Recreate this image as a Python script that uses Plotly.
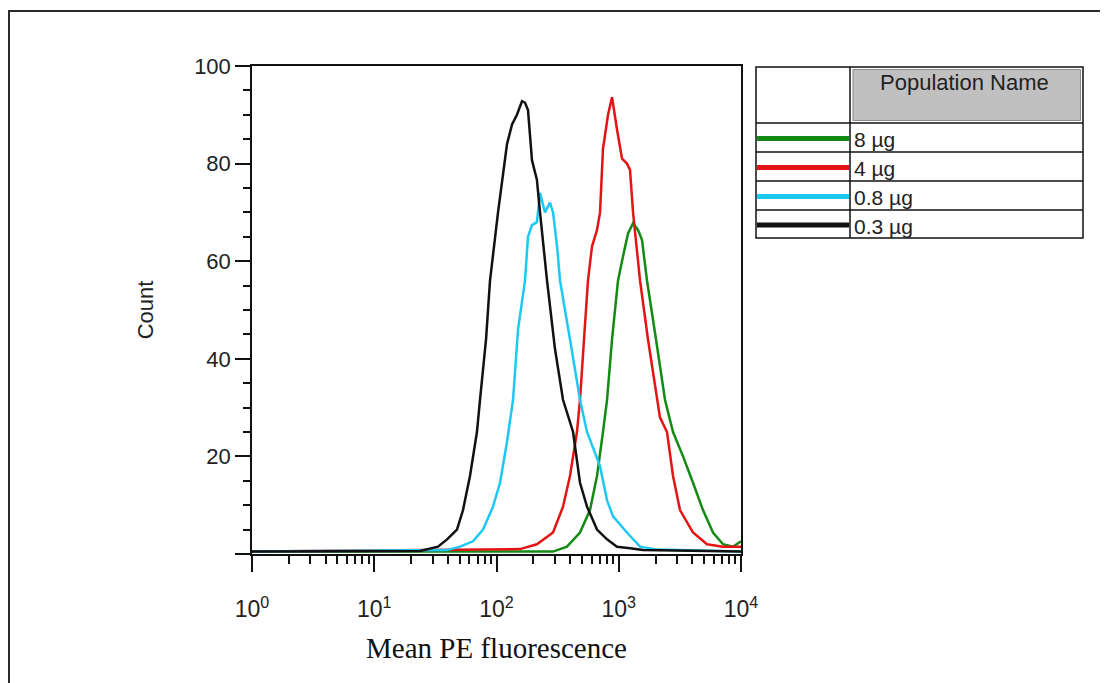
import plotly.graph_objects as go

# ---------------- data ----------------
series_names = ["8 µg", "4 µg", "0.8 µg", "0.3 µg"]
series_colors = ["#138a13", "#e31414", "#1ec8f5", "#111111"]

# 8 µg (green)
fl_8ug = [1, 290, 377, 482, 582, 664, 743, 802, 881, 986, 1084, 1191, 1309, 1437,
          1549, 1641, 1703, 2017, 2389, 2780, 3357, 4049, 4887, 5900, 7125, 8605, 10000]
ct_8ug = [0.5, 0.5, 1.5, 4.4, 9, 16, 25, 31.6, 44, 56, 61, 65.7, 67.8, 66.4,
          64.4, 59.6, 56, 44, 31.6, 25, 20, 14.6, 9, 4.4, 2, 1.5, 2.6]

# 4 µg (red)
fl_4ug = [1, 155.6, 214, 290, 350, 399, 455, 482, 520, 560, 604, 664, 703, 743, 817,
          881, 968, 1064, 1167, 1236, 1309, 1493, 1734, 2056, 2173, 2482, 2780, 3170,
          4049, 5270, 7125, 10000]
ct_4ug = [0.5, 1.0, 2, 4.4, 9.7, 16, 25, 31.6, 44, 56, 63, 66.4, 70, 83, 90,
          93.6, 87, 81, 80, 78.7, 70, 56, 44, 31.6, 28, 25, 16, 9,
          4.4, 2, 1.5, 1.5]

# 0.8 µg (cyan)
fl_08ug = [1, 39.4, 50.3, 64.2, 77.6, 93.6, 106.9, 121.9, 136.5, 150, 171, 181, 195,
           214, 227, 236, 249, 274, 290, 313, 331, 399, 482, 550, 703, 802, 898,
           1167, 1493, 2056, 10000]
ct_08ug = [0.5, 0.8, 1.5, 2.6, 5, 9.7, 14.6, 23, 31.6, 46, 56, 65, 67.4,
           68, 74, 72.5, 70, 72, 70, 63, 56, 44, 31.6, 25, 18, 11, 7.7,
           4.4, 1.5, 0.9, 0.5]

# 0.3 µg (black)
fl_03ug = [1, 23.7, 33.2, 39.4, 47.5, 53.2, 60.7, 69.2, 73.3, 82.1, 88.5, 102.9, 121.9,
           134, 147, 155.6, 161.7, 171, 181, 195, 214, 227, 259, 301, 350, 423, 482,
           550, 664, 802, 968, 1236, 1578, 10000]
ct_03ug = [0.5, 0.6, 1.5, 3, 5, 9, 16, 25, 31.6, 44, 56, 70, 84,
           88, 90, 91.6, 92.8, 92.5, 91, 80.7, 76.7, 70, 56, 42, 31.6, 25, 14.6,
           9.7, 5, 3, 1.5, 1.2, 0.8, 0.5]

y_ticks = [0, 20, 40, 60, 80, 100]
y_ticktext = ["", "20", "40", "60", "80", "100"]
x_major = [1, 10, 100, 1000, 10000]
x_ticktext = ["10<sup>%d</sup>" % k for k in range(5)]
x_minor = [m * 10 ** k for k in range(4) for m in range(2, 10)]

x_title = "Mean PE fluorescence"
y_title = "Count"
legend_header = "Population Name"

# ---------------- figure ----------------
# page body adds an 8px margin, so the figure is 8px smaller and reference
# pixel positions are shifted by 8px.
OFF = 8
W, H = 1108 - OFF, 683 - OFF
L, R, T, B = 252 - OFF, 741 - OFF, 66 - OFF, 554 - OFF


def px(x):
    return (x - OFF - L) / (R - L)


def py(y):
    return (B - (y - OFF)) / (B - T)


fig = go.Figure()
xs = [fl_8ug, fl_4ug, fl_08ug, fl_03ug]
ys = [ct_8ug, ct_4ug, ct_08ug, ct_03ug]
for name, col, xv, yv in zip(series_names, series_colors, xs, ys):
    fig.add_trace(go.Scatter(x=xv, y=yv, mode="lines", name=name,
                             line=dict(color=col, width=2.5), showlegend=False))

shapes = []
# outer frame
shapes.append(dict(type="rect", xref="paper", yref="paper",
                   x0=px(9), y0=py(11), x1=px(1200), y1=py(760),
                   line=dict(color="#2b2b2b", width=2), layer="below"))
# legend table
lx0, lx1, ldiv = 756, 1083, 850
ly0, ly1 = 67, 238
row_edges = [123, 152, 181, 210, 238]
shapes.append(dict(type="rect", xref="paper", yref="paper",
                   x0=px(853), y0=py(69.5), x1=px(1080.5), y1=py(120.5),
                   fillcolor="#c0c0c0", line=dict(color="#8a8a8a", width=1)))
shapes.append(dict(type="rect", xref="paper", yref="paper",
                   x0=px(lx0), y0=py(ly0), x1=px(lx1), y1=py(ly1),
                   line=dict(color="#111", width=1.5)))
for ry in row_edges[:-1]:
    shapes.append(dict(type="line", xref="paper", yref="paper",
                       x0=px(lx0), x1=px(lx1), y0=py(ry), y1=py(ry),
                       line=dict(color="#111", width=1.5)))
shapes.append(dict(type="line", xref="paper", yref="paper",
                   x0=px(ldiv), x1=px(ldiv), y0=py(ly0), y1=py(ly1),
                   line=dict(color="#111", width=1.5)))

annotations = [dict(text=legend_header, xref="paper", yref="paper",
                    x=px(964), y=py(82), xanchor="center", yanchor="middle",
                    showarrow=False,
                    font=dict(family="Liberation Sans, Arial", size=22, color="#222"))]
for i, (name, col) in enumerate(zip(series_names, series_colors)):
    top, bot = row_edges[i], row_edges[i + 1]
    cy = (top + bot) / 2
    shapes.append(dict(type="line", xref="paper", yref="paper",
                       x0=px(lx0 + 1), x1=px(ldiv - 1), y0=py(cy + 1), y1=py(cy + 1),
                       line=dict(color=col, width=5)))
    annotations.append(dict(text=name, xref="paper", yref="paper",
                            x=px(852), y=py(cy + 2), xanchor="left", yanchor="middle",
                            showarrow=False,
                            font=dict(family="Liberation Sans, Arial", size=21, color="#222")))

fig.update_layout(
    width=W, height=H,
    margin=dict(l=L, r=W - R, t=T, b=H - B, autoexpand=False),
    paper_bgcolor="white", plot_bgcolor="white",
    shapes=shapes, annotations=annotations,
    showlegend=False,
)

fig.update_xaxes(
    type="log", range=[0, 4],
    tickvals=x_major, ticktext=x_ticktext,
    ticks="outside", ticklen=16, tickwidth=1.5, tickcolor="#111",
    minor=dict(tickvals=x_minor, ticks="outside", ticklen=8, tickwidth=1.5, tickcolor="#111"),
    showline=True, linecolor="#111", linewidth=1.5, mirror=True,
    showgrid=False, zeroline=False,
    ticklabelstandoff=18,
    tickfont=dict(family="Liberation Sans, Arial", size=23, color="#222"),
    title=dict(text=x_title, standoff=16,
               font=dict(family="Liberation Serif, Times New Roman", size=29, color="#111")),
)
fig.update_yaxes(
    range=[0, 100],
    tickvals=y_ticks, ticktext=y_ticktext,
    ticks="outside", ticklen=15, tickwidth=1.5, tickcolor="#111",
    minor=dict(dtick=5, ticks="outside", ticklen=7, tickwidth=1.5, tickcolor="#111"),
    showline=True, linecolor="#111", linewidth=1.5, mirror=True,
    showgrid=False, zeroline=False,
    tickfont=dict(family="Liberation Sans, Arial", size=22, color="#222"),
    title=dict(text=y_title, standoff=34,
               font=dict(family="Liberation Sans, Arial", size=22, color="#222")),
)

fig.write_html("out.html")
